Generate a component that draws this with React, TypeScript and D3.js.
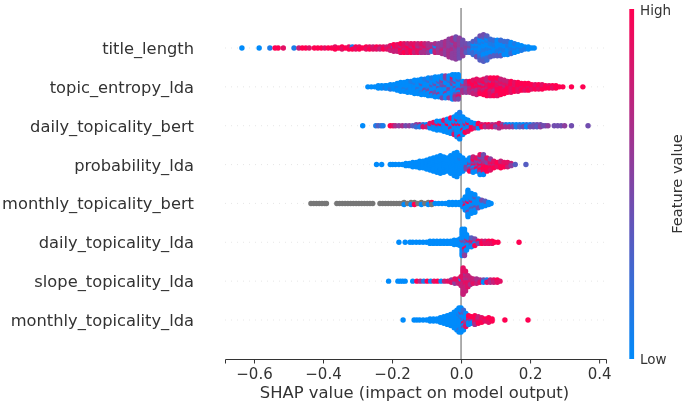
import React, { useEffect, useRef } from 'react';
import * as d3 from 'd3';

const features = [
  'title_length',
  'topic_entropy_lda',
  'daily_topicality_bert',
  'probability_lda',
  'monthly_topicality_bert',
  'daily_topicality_lda',
  'slope_topicality_lda',
  'monthly_topicality_lda',
];

const xTicks = [-0.6, -0.4, -0.2, 0, 0.2, 0.4];

// Each column: a SHAP value, and one digit per dot stacked there.
// Digit = feature value 0 (low) to 9 (high), x = missing (grey).
const titleLengthShap = [-0.635, -0.585, -0.554, -0.539, -0.53, -0.515, -0.484, -0.47, -0.46, -0.45, -0.44, -0.425, -0.415, -0.405, -0.395, -0.385, -0.375, -0.365, -0.355, -0.345, -0.335, -0.325, -0.315, -0.305, -0.295, -0.285, -0.275, -0.265, -0.255, -0.245, -0.235, -0.225, -0.215, -0.205, -0.195, -0.185, -0.175, -0.165, -0.155, -0.145, -0.135, -0.125, -0.115, -0.105, -0.095, -0.085, -0.075, -0.065, -0.055, -0.045, -0.035, -0.025, -0.015, -0.005, 0.005, 0.015, 0.025, 0.035, 0.045, 0.055, 0.065, 0.075, 0.085, 0.095, 0.105, 0.115, 0.125, 0.135, 0.145, 0.155, 0.165, 0.175, 0.185, 0.195, 0.205, 0.212];
const titleLengthFeature = ['0', '0', '1', '9', '9', '8', '1', '7', '9', '9', '8', '9', '9', '9', '8', '9', '9', '89', '9', '98', '9', '89', '19', '98', '89', '9', '98', '89', '78', '98', '87', '89', '78', '978', '1897', '9887', '89789', '97898', '78987', '89798', '68978', '78687', '68768', '76867', '67656', '5761', '56176', '65565', '565756', '6565656', '565656565', '5656456565', '45656565454', '5454545454', '45454545', '34534', '32423', '1012023', '101101243', '100011010243', '0101001002334', '010100100232', '010010132', '00101023', '10010103', '01010023', '0101002', '0010102', '010102', '01001', '0100', '010', '01', '00', '0', '0'];

const topicEntropyShap = [-0.27, -0.26, -0.25, -0.24, -0.23, -0.22, -0.215, -0.205, -0.195, -0.185, -0.175, -0.165, -0.155, -0.145, -0.135, -0.125, -0.115, -0.105, -0.095, -0.085, -0.075, -0.065, -0.055, -0.045, -0.035, -0.025, -0.017, -0.008, 0.005, 0.015, 0.025, 0.035, 0.045, 0.055, 0.065, 0.075, 0.085, 0.095, 0.105, 0.115, 0.125, 0.135, 0.145, 0.155, 0.165, 0.175, 0.185, 0.195, 0.205, 0.215, 0.225, 0.235, 0.245, 0.255, 0.265, 0.275, 0.285, 0.295, 0.32, 0.353];
const topicEntropyFeature = ['0', '0', '0', '00', '00', '01', '00', '010', '000', '0100', '00000', '01000', '000100', '000010', '0000100', '0200000', '00300100', '00040010', '010400200', '003005001', '0040030400', '0400300500', '00403050040', '30400500405', '05040020050', '005030508000', '040050030605', '200500350804', '535606', '546465', '768796', '6896978', '79869687', '8798698', '89679889', '978989697', '899798689', '989697899', '798989789', '89798979', '9879897', '898979', '989898', '89898', '98989', '9899', '8998', '9899', '989', '898', '989', '898', '99', '89', '98', '99', '9', '9', '9', '9'];

const dailyBertShap = [-0.285, -0.247, -0.24, -0.232, -0.226, -0.205, -0.197, -0.19, -0.18, -0.17, -0.16, -0.15, -0.14, -0.13, -0.12, -0.11, -0.1, -0.09, -0.08, -0.07, -0.06, -0.05, -0.04, -0.03, -0.02, -0.012, -0.004, 0.005, 0.012, 0.02, 0.03, 0.04, 0.05, 0.06, 0.07, 0.08, 0.09, 0.1, 0.11, 0.12, 0.13, 0.14, 0.15, 0.16, 0.17, 0.18, 0.19, 0.2, 0.21, 0.22, 0.23, 0.238, 0.245, 0.252, 0.27, 0.28, 0.29, 0.3, 0.32, 0.368];
const dailyBertFeature = ['0', '1', '3', '2', '1', '9', '8', '6', '5', '6', '4', '5', '3', '52', '61', '28', '07', '108', '0180', '01800', '00900', '010080', '0090100', '01080090', '009003080', '00800090010', '0080001009001', '001900200', '0170090', '019008', '0809', '870', '809', '79', '86', '97', '68', '75', '168', '57', '16', '06', '15', '01', '13', '04', '20', '14', '34', '43', '45', '4', '4', '5', '4', '4', '4', '5', '4', '4'];

const probabilityShap = [-0.245, -0.23, -0.205, -0.198, -0.19, -0.18, -0.17, -0.16, -0.15, -0.14, -0.13, -0.12, -0.11, -0.1, -0.09, -0.08, -0.07, -0.06, -0.05, -0.04, -0.03, -0.02, -0.012, -0.004, 0.005, 0.015, 0.025, 0.035, 0.045, 0.055, 0.065, 0.075, 0.085, 0.095, 0.105, 0.115, 0.125, 0.135, 0.145, 0.157, 0.188];
const probabilityFeature = ['0', '0', '0', '0', '0', '0', '0', '00', '00', '000', '000', '0000', '0000', '00000', '000000', '0000000', '00000000', '000000000', '00000000', '0000000', '000000000', '00000000000', '000000000000', '000000100', '0000000', '05040', '7045090', '38509470', '9469408', '8945794580', '9869594840', '8949598', '978958', '9789', '989', '8979', '898', '978', '75', '3', '3'];

const monthlyBertShap = [-0.435, -0.427, -0.419, -0.411, -0.403, -0.395, -0.39, -0.36, -0.352, -0.344, -0.336, -0.328, -0.32, -0.312, -0.304, -0.296, -0.288, -0.28, -0.272, -0.264, -0.256, -0.235, -0.227, -0.219, -0.211, -0.203, -0.195, -0.187, -0.179, -0.171, -0.165, -0.155, -0.145, -0.135, -0.125, -0.115, -0.105, -0.095, -0.085, -0.075, -0.065, -0.055, -0.045, -0.035, -0.025, -0.015, -0.005, 0.005, 0.012, 0.02, 0.03, 0.04, 0.05, 0.06, 0.07, 0.08, 0.087];
const monthlyBertFeature = ['x', 'x', 'x', 'x', 'x', 'x', 'x', 'x', 'x', 'x', 'x', 'x', 'x', 'x', 'x', 'x', 'x', 'x', 'x', 'x', 'x', 'x', 'x', 'x', 'x', 'x', 'x', 'x', 'x', 'x', 'x0', 'x', 'x0', 'x9', 'x', 'x0', 'x', 'x0', '9x', '0', '0', '0', '0', '00', '00', '00', '00', '0000', '0940000', '0090000400000', '0060030000', '000400300', '00040', '0040', '003', '00', '0'];

const dailyLdaShap = [-0.18, -0.162, -0.148, -0.14, -0.13, -0.12, -0.11, -0.1, -0.09, -0.08, -0.07, -0.06, -0.05, -0.04, -0.03, -0.02, -0.01, -0.003, 0.003, 0.01, 0.016, 0.022, 0.03, 0.04, 0.05, 0.06, 0.07, 0.08, 0.09, 0.097, 0.107, 0.168];
const dailyLdaFeature = ['0', '0', '0', '0', '0', '0', '0', '0', '00', '00', '00', '00', '00', '00', '00', '000', '000', '0000', '0040000000000', '4040090403050', '04500800', '40700', '54803', '6049', '94', '89', '78', '98', '98', '9', '9', '9'];

const slopeLdaShap = [-0.21, -0.183, -0.176, -0.169, -0.162, -0.14, -0.128, -0.118, -0.108, -0.098, -0.088, -0.078, -0.068, -0.058, -0.048, -0.038, -0.028, -0.018, -0.008, 0, 0.006, 0.013, 0.02, 0.027, 0.035, 0.045, 0.055, 0.065, 0.075, 0.085, 0.095, 0.105, 0.113];
const slopeLdaFeature = ['0', '0', '0', '0', '0', '0', '9', '6', '1', '9', '0', '8', '9', '0', '7', '8', '58', '758', '878', '78078', '8787878787878', '7868776787', '786878', '7876', '787', '876', '68', '40', '18', '76', '87', '98', '8'];

const monthlyLdaShap = [-0.168, -0.136, -0.128, -0.12, -0.11, -0.1, -0.09, -0.08, -0.07, -0.06, -0.05, -0.04, -0.03, -0.02, -0.012, -0.006, 0, 0.007, 0.014, 0.022, 0.03, 0.04, 0.05, 0.06, 0.07, 0.08, 0.09, 0.127, 0.194];
const monthlyLdaFeature = ['0', '0', '0', '0', '0', '0', '00', '00', '00', '000', '0000', '00000', '000000', '00000000', '0000000000', '000010000200', '001000400000', '6008003420', '7406080', '90709', '8490', '78969', '4879', '898', '98', '989', '99', '9', '9'];

const rowShap = [titleLengthShap, topicEntropyShap, dailyBertShap, probabilityShap, monthlyBertShap, dailyLdaShap, slopeLdaShap, monthlyLdaShap];
const rowFeature = [titleLengthFeature, topicEntropyFeature, dailyBertFeature, probabilityFeature, monthlyBertFeature, dailyLdaFeature, slopeLdaFeature, monthlyLdaFeature];

const LOW = '#008bfb';
const HIGH = '#ff0051';
const TEXT = '#333333';
const FONT = '"DejaVu Sans", sans-serif';

const App: React.FC = () => {
  const chartRef = useRef<SVGSVGElement | null>(null);

  useEffect(() => {
    if (!chartRef.current) return;

    const svg = d3.select(chartRef.current);
    svg.selectAll('*').remove();

    const x = d3.scaleLinear().domain([-0.684, 0.42]).range([225, 606]);
    const y = d3.scalePoint<string>().domain(features).range([48, 320]);
    const color = d3.scaleLinear<string>().domain([0, 9]).range([LOW, HIGH]).interpolate(d3.interpolateRgb);
    const layerStep = 2.2;

    // Dotted guide per feature
    svg
      .append('g')
      .selectAll('line')
      .data(features)
      .enter()
      .append('line')
      .attr('x1', 225)
      .attr('x2', 606)
      .attr('y1', (d) => y(d) || 0)
      .attr('y2', (d) => y(d) || 0)
      .attr('stroke', '#cccccc')
      .attr('stroke-width', 0.5)
      .attr('stroke-dasharray', '1 5');

    // Zero line
    svg
      .append('line')
      .attr('x1', x(0))
      .attr('x2', x(0))
      .attr('y1', 8)
      .attr('y2', 359)
      .attr('stroke', '#999999')
      .attr('stroke-width', 1.6);

    // Labels
    svg
      .append('g')
      .selectAll('text')
      .data(features)
      .enter()
      .append('text')
      .text((d) => d)
      .attr('x', 194)
      .attr('y', (d) => (y(d) || 0) + 6)
      .attr('text-anchor', 'end')
      .attr('font-family', FONT)
      .attr('font-size', 16.3)
      .attr('fill', TEXT);

    // Swarm: stack the dots of a column around the row centre
    const dots = features.flatMap((name, r) =>
      rowShap[r].flatMap((value, c) => {
        const stack = rowFeature[r][c];
        return stack.split('').map((digit, i) => {
          const layer = Math.ceil(i / 2) * (i % 2 ? 1 : -1) - (stack.length % 2 ? 0 : 0.5);
          return { name, value, digit, layer };
        });
      })
    );

    svg
      .append('g')
      .selectAll('circle')
      .data(dots)
      .enter()
      .append('circle')
      .attr('cx', (d) => x(d.value))
      .attr('cy', (d) => (y(d.name) || 0) + d.layer * layerStep)
      .attr('r', 2.7)
      .attr('fill', (d) => (d.digit === 'x' ? '#777777' : color(+d.digit)));

    // X-axis
    const axis = svg
      .append('g')
      .attr('transform', 'translate(0, 359)')
      .call(d3.axisBottom(x).tickValues(xTicks).tickFormat(d3.format('.1f')).tickSizeOuter(0).tickSize(4.5).tickPadding(5));
    axis.select('.domain').attr('stroke', TEXT).attr('stroke-width', 1);
    axis.selectAll('.tick line').attr('stroke', TEXT);
    axis.selectAll('.tick text').attr('fill', TEXT).attr('font-family', FONT).attr('font-size', 15);

    svg
      .append('text')
      .text('SHAP value (impact on model output)')
      .attr('x', 414.5)
      .attr('y', 398)
      .attr('text-anchor', 'middle')
      .attr('font-family', FONT)
      .attr('font-size', 16.4)
      .attr('fill', TEXT);

    // Colour bar
    const gradient = svg
      .append('defs')
      .append('linearGradient')
      .attr('id', 'featureGradient')
      .attr('x1', 0)
      .attr('x2', 0)
      .attr('y1', 1)
      .attr('y2', 0);
    gradient.append('stop').attr('offset', '0%').attr('stop-color', LOW);
    gradient.append('stop').attr('offset', '100%').attr('stop-color', HIGH);

    svg
      .append('rect')
      .attr('x', 629.3)
      .attr('y', 9)
      .attr('width', 4.8)
      .attr('height', 350)
      .attr('fill', 'url(#featureGradient)');

    svg
      .append('text')
      .text('High')
      .attr('x', 640)
      .attr('y', 15)
      .attr('font-family', FONT)
      .attr('font-size', 13.5)
      .attr('fill', TEXT);

    svg
      .append('text')
      .text('Low')
      .attr('x', 640)
      .attr('y', 364)
      .attr('font-family', FONT)
      .attr('font-size', 13.5)
      .attr('fill', TEXT);

    svg
      .append('text')
      .text('Feature value')
      .attr('transform', 'translate(682, 184) rotate(-90)')
      .attr('text-anchor', 'middle')
      .attr('font-family', FONT)
      .attr('font-size', 14.6)
      .attr('fill', TEXT);
  }, []);

  return <svg ref={chartRef} width={685} height={406} style={{ position: 'absolute', left: 0, top: 0, filter: 'blur(0.4px)' }}></svg>;
};

export default App;
